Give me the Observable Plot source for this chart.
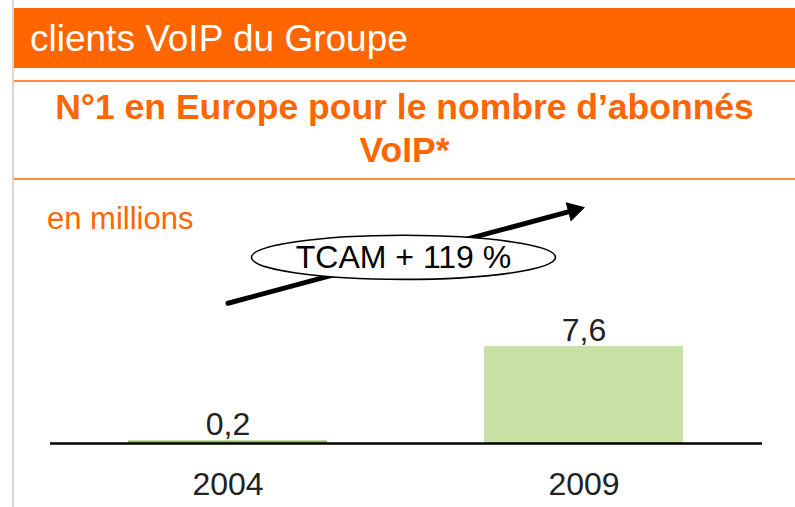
<!DOCTYPE html>
<html>
<head>
<meta charset="utf-8">
<script src="https://cdn.jsdelivr.net/npm/d3@7"></script>
<script src="https://cdn.jsdelivr.net/npm/@observablehq/plot@0.6"></script>
<style>
  html, body { margin: 0; padding: 0; background: #fff; }
  body { width: 795px; height: 507px; overflow: hidden; position: relative; font-family: "Liberation Sans", Arial, Helvetica, sans-serif; }
  #border { position: absolute; left: 12px; top: 0; width: 2px; height: 507px; background: #d6d6d6; }
  #header { position: absolute; left: 14px; right: 0; top: 8px; height: 60px; background: #ff6600; color: #fff; font-size: 37px; line-height: 62px; padding-left: 16px; box-sizing: border-box; white-space: nowrap; }
  .rule { position: absolute; left: 14px; right: 0; height: 2px; background: #ff8a3d; }
  #subtitle { position: absolute; left: 14px; right: 0; top: 86px; text-align: center; color: #ff6600; font-weight: bold; font-size: 35.5px; line-height: 43px; white-space: nowrap; }
  #unit { position: absolute; left: 47px; top: 201px; color: #ff6600; font-size: 31px; line-height: 36px; }
  #chart { position: absolute; left: 0; top: 190px; }
</style>
</head>
<body>
<div id="border"></div>
<div id="header">clients VoIP du Groupe</div>
<div class="rule" style="top:80px"></div>
<div id="subtitle">N°1 en Europe pour le nombre d’abonnés<br>VoIP*</div>
<div class="rule" style="top:178px"></div>
<div id="unit">en millions</div>
<div id="chart"></div>
<script>
const years = ["2004", "2009"];
const subscribers = [0.2, 7.6];
const valueLabels = ["0,2", "7,6"];
const barColors = ["#8cc152", "#c8e0a3"];
const trendLabel = "TCAM + 119 %";
const trendStart = {year: "2004", value: 11.0};
const trendEnd = {year: "2009", value: 18.5};
const trendBadge = {value: 14.6};

const data = years.map((y, i) => ({year: y, value: subscribers[i], label: valueLabels[i], color: barColors[i]}));
const trend = [{x1: trendStart.year, y1: trendStart.value, x2: trendEnd.year, y2: trendEnd.value}];

function ellipseSymbol(ratio) {
  return {
    draw(ctx, size) {
      const rx = Math.sqrt(size / Math.PI), ry = rx * ratio, k = 0.5523;
      ctx.moveTo(rx, 0);
      ctx.bezierCurveTo(rx, ry * k, rx * k, ry, 0, ry);
      ctx.bezierCurveTo(-rx * k, ry, -rx, ry * k, -rx, 0);
      ctx.bezierCurveTo(-rx, -ry * k, -rx * k, -ry, 0, -ry);
      ctx.bezierCurveTo(rx * k, -ry, rx, -ry * k, rx, 0);
      ctx.closePath();
    }
  };
}

const headR = 6.8;
const headTip = 2 * Math.sqrt(Math.PI * headR * headR / (3 * Math.sqrt(3)));

function build(headRotate) {
  const rad = headRotate * Math.PI / 180;
  return Plot.plot({
    width: 795,
    height: 317,
    marginLeft: 50,
    marginRight: 33,
    marginTop: 49,
    marginBottom: 64,
    style: {fontFamily: "Liberation Sans, Arial, sans-serif", background: "transparent", overflow: "visible"},
    x: {domain: years, paddingInner: 0.44, paddingOuter: 0.22, label: null},
    y: {domain: [0, 16], axis: null},
    marks: [
      Plot.barY(data, {x: "year", y: "value", fill: "color"}),
      Plot.ruleY([0], {stroke: "#000", strokeWidth: 2.5}),
      Plot.text(data, {x: "year", y: "value", text: "label", lineAnchor: "bottom", dy: -6, fontSize: 32, fill: "#222"}),
      Plot.axisX({tickSize: 0, tickPadding: 29, fontSize: 32, color: "#222", label: null}),
      Plot.arrow(trend, {x1: "x1", y1: "y1", x2: "x2", y2: "y2", stroke: "#000", strokeWidth: 5, headLength: 0, insetEnd: headTip, bend: 0}),
      Plot.dot(trend, {
        x: "x2", y: "y2", symbol: "triangle", r: headR, fill: "#000", stroke: "#000", strokeWidth: 1,
        rotate: headRotate, dx: -headTip * Math.sin(rad), dy: headTip * Math.cos(rad)
      }),
      Plot.dot([trendBadge], {
        frameAnchor: "middle", y: "value", dx: -3, r: 152,
        symbol: ellipseSymbol(0.145), fill: "#fff", stroke: "#000", strokeWidth: 1.6
      }),
      Plot.text([trendBadge], {frameAnchor: "middle", y: "value", dx: -3, text: () => trendLabel, fontSize: 32, fill: "#000"})
    ]
  });
}

// first pass: read the scales to orient the arrowhead along the trend line
const probe = build(0);
const xs = probe.scale("x"), ys = probe.scale("y");
const px1 = xs.apply(trendStart.year) + xs.bandwidth / 2, px2 = xs.apply(trendEnd.year) + xs.bandwidth / 2;
const py1 = ys.apply(trendStart.value), py2 = ys.apply(trendEnd.value);
const angle = Math.atan2(px2 - px1, py1 - py2) * 180 / Math.PI;
document.getElementById("chart").appendChild(build(angle));
</script>
</body>
</html>
